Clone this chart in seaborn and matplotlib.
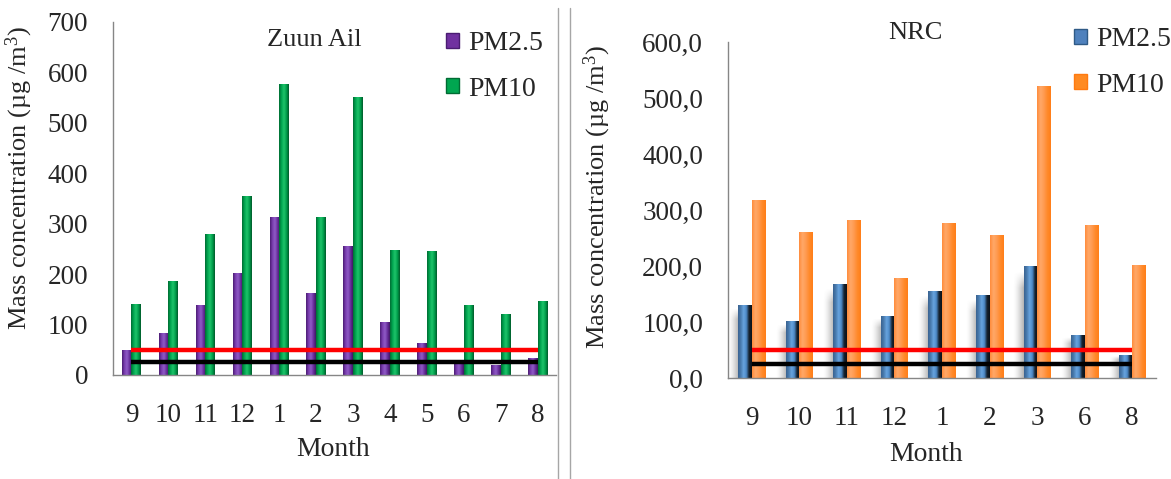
import numpy as np
import pandas as pd
import matplotlib
matplotlib.use('Agg')
import matplotlib.pyplot as plt
from matplotlib.colors import LinearSegmentedColormap
from matplotlib.patches import Patch
import seaborn as sns

# Zuun Ail
za_months = ['9', '10', '11', '12', '1', '2', '3', '4', '5', '6', '7', '8']
za_pm25 = [50, 83, 139, 203, 314, 163, 255, 106, 64, 22, 20, 34]
za_pm10 = [141, 187, 280, 354, 577, 314, 551, 248, 245, 139, 121, 147]
za_yticks = [0, 100, 200, 300, 400, 500, 600, 700]
za_yticklabels = ['0', '100', '200', '300', '400', '500', '600', '700']

# NRC
nrc_months = ['9', '10', '11', '12', '1', '2', '3', '6', '8']
nrc_pm25 = [131, 101, 168, 111, 155, 148, 200, 77, 41]
nrc_pm10 = [318, 260, 283, 178, 276, 256, 521, 274, 202]
nrc_yticks = [0, 100, 200, 300, 400, 500, 600]
nrc_yticklabels = ['0,0', '100,0', '200,0', '300,0', '400,0', '500,0', '600,0']

# guideline lines
limit_red = 50
limit_black = 25

series = ['PM2.5', 'PM10']

sns.set_style('white')
plt.rcParams['font.family'] = ['Liberation Serif', 'DejaVu Serif']

W, H = 1171, 479
fig = plt.figure(figsize=(W / 100, H / 100), dpi=100)

def px_axes(x0, x1, ytop, ybot):
    return fig.add_axes([x0 / W, 1 - ybot / H, (x1 - x0) / W, (ybot - ytop) / H])

def cylinder(ax, bar, colors, n=64):
    x, y = bar.get_x(), bar.get_y()
    w, h = bar.get_width(), bar.get_height()
    cmap = LinearSegmentedColormap.from_list('c', colors)
    grad = np.linspace(0, 1, n).reshape(1, -1)
    im = ax.imshow(grad, cmap=cmap, extent=[x, x + w, y, y + h], aspect='auto',
                   zorder=bar.get_zorder() + 0.1, interpolation='bilinear')
    im.set_clip_path(bar)

def shadow(ax, bar):
    # soft grey shadow left of the bar
    x, y = bar.get_x(), bar.get_y()
    w, h = bar.get_width(), bar.get_height()
    hx = np.linspace(0, 1, 40) ** 1.5
    vy = np.clip(np.linspace(0, 1, 60) / 0.15, 0, 1)[:, None]
    rgba = np.zeros((60, 40, 4))
    rgba[..., :3] = 0.45
    rgba[..., 3] = 0.55 * hx[None, :] * vy
    ax.imshow(rgba, extent=[x - 0.75 * w, x, y, y + 0.95 * h], aspect='auto',
              origin='upper', zorder=bar.get_zorder() - 0.5, interpolation='bilinear')

def panel(ax, months, pm25, pm10, palette, grads, yticks, yticklabels, width, shade=False):
    df = pd.DataFrame({
        'month': months * 2,
        'value': pm25 + pm10,
        'series': ['PM2.5'] * len(months) + ['PM10'] * len(months),
    })
    sns.barplot(data=df, x='month', y='value', hue='series', order=months,
                hue_order=series, palette=palette, width=width, gap=0,
                saturation=1, legend=False, ax=ax, zorder=2)
    for i, (cont, g) in enumerate(zip(ax.containers, grads)):
        for bar in cont:
            bar.set_edgecolor('none')
            cylinder(ax, bar, g)
            if shade and i == 0:
                shadow(ax, bar)
    n = len(months)
    ax.hlines(limit_red, 0, n - 1, color='#ff0000', lw=3.2, zorder=6)
    ax.hlines(limit_black, 0, n - 1, color='#000000', lw=3.2, zorder=6)
    ax.set_xlim(-0.5, n - 0.5)
    ax.set_ylim(yticks[0], yticks[-1])
    ax.set_yticks(yticks)
    ax.set_yticklabels(yticklabels)
    ax.set_xticks(range(n))
    ax.set_xticklabels(months)
    ax.set_xticks(np.arange(n + 1) - 0.5, minor=True)
    ax.tick_params(axis='x', which='major', length=0, pad=20, labelsize=19.5)
    ax.tick_params(axis='x', which='minor', length=6, width=1, color='#868686', direction='out')
    ax.tick_params(axis='y', length=6, width=1, color='#868686', direction='out', pad=12, labelsize=19.5)
    for s in ['top', 'right']:
        ax.spines[s].set_visible(False)
    for s in ['left', 'bottom']:
        ax.spines[s].set_color('#868686')
        ax.spines[s].set_linewidth(1)
    ax.set_facecolor('white')
    ax.set_xlabel('Month', fontsize=20)
    ax.set_ylabel('Mass concentration (µg /m$\\mathregular{^3}$)', fontsize=19)

# left panel
ax1 = px_axes(113, 556, 22, 375)
panel(ax1, za_months, za_pm25, za_pm10, ['#7030a0', '#00a650'],
      [['#4a1c72', '#7a3db0', '#8f5cc6', '#6a2f9e', '#3e1762'],
       ['#006b33', '#00a650', '#1fc36a', '#00a04c', '#005a2a']],
      za_yticks, za_yticklabels, width=0.52)
ax1.xaxis.set_label_coords(0.496, -0.175)
ax1.yaxis.set_label_coords(-0.176, 0.558)
ax1.text(0.454, 0.949, 'Zuun Ail', transform=ax1.transAxes, ha='center', va='center', fontsize=19)

# right panel
ax2 = px_axes(728, 1156, 42, 378)
panel(ax2, nrc_months, nrc_pm25, nrc_pm10, ['#4f81bd', '#ff8a22'],
      [['#3a6390', '#4a7cb0', '#68a4de', '#4d8ac8', '#16222e', '#0b121a'],
       ['#ff8c3c', '#ffa868', '#ff9a50', '#ff8a2a', '#ff7e18']],
      nrc_yticks, nrc_yticklabels, width=0.57, shade=True)
ax2.xaxis.set_label_coords(0.462, -0.19)
ax2.yaxis.set_label_coords(-0.269, 0.539)
ax2.text(0.438, 1.027, 'NRC', transform=ax2.transAxes, ha='center', va='center', fontsize=19)

# legends
leg_kw = dict(frameon=False, fontsize=20, handlelength=0.45, handleheight=0.45,
              handletextpad=0.35, labelspacing=0.75, borderpad=0, borderaxespad=0,
              loc='upper left', bbox_transform=fig.transFigure)
h1 = [Patch(facecolor='#7030a0', edgecolor='#4a1c72'), Patch(facecolor='#00a650', edgecolor='#006b33')]
fig.legend(h1, series, bbox_to_anchor=(446 / W, 1 - 31 / H), **leg_kw)
h2 = [Patch(facecolor='#4f81bd', edgecolor='#2f5a86'), Patch(facecolor='#ff8a22', edgecolor='#ff7a10')]
fig.legend(h2, series, bbox_to_anchor=(1074 / W, 1 - 27 / H), **leg_kw)

# separator lines
for xs in (558, 570):
    fig.add_artist(plt.Line2D([xs / W, xs / W], [0, 1 - 8 / H], transform=fig.transFigure,
                              color='#a6a6a6', lw=1))

fig.savefig('out.png', dpi=100)
